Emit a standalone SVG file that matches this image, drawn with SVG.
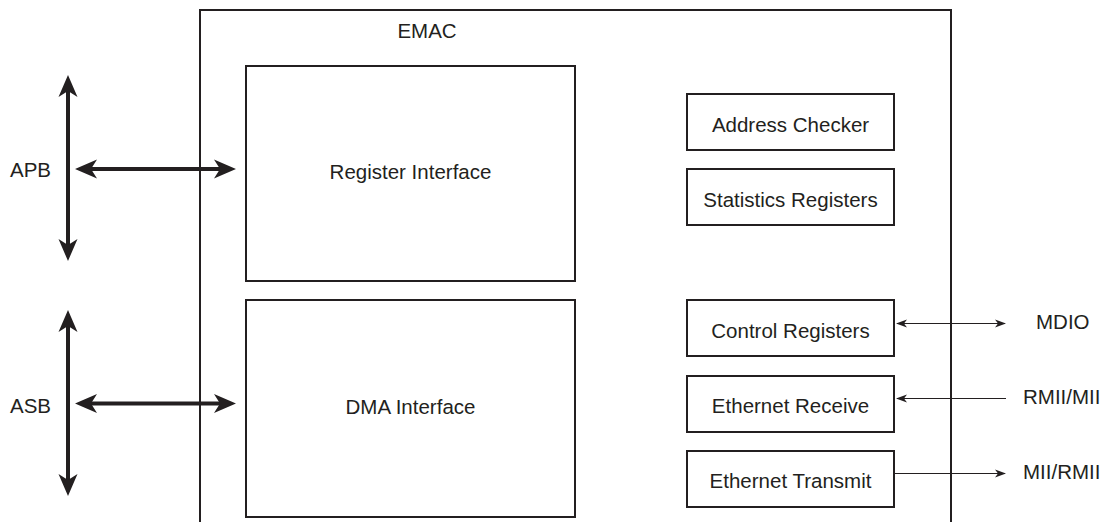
<svg xmlns="http://www.w3.org/2000/svg" width="1106" height="522" viewBox="0 0 1106 522">
<style>
.box{fill:none;stroke:#231f20;stroke-width:2}
.t{font-family:"Liberation Sans",Arial,sans-serif;font-size:20.5px;fill:#231f20}
.c{text-anchor:middle}
.thick{stroke:#231f20;stroke-width:4;fill:none}
.thin{stroke:#231f20;stroke-width:1.2;fill:none}
</style>
<defs>
<marker id="bigArrow" markerUnits="userSpaceOnUse" markerWidth="24" markerHeight="22" refX="8" refY="11" orient="auto-start-reverse">
<path d="M0,1.5 L22,11 L0,20.5 L6,11 Z" fill="#231f20"/>
</marker>
<marker id="smallArrow" markerUnits="userSpaceOnUse" markerWidth="12" markerHeight="10" refX="10" refY="5" orient="auto-start-reverse">
<path d="M0,1 L11,5 L0,9 L3,5 Z" fill="#231f20"/>
</marker>
</defs>
<rect width="1106" height="522" fill="#fff"/>
<g id="emac">
<path class="box" d="M200,522 V10 H951 V522"/>
<text class="t c" x="427" y="38">EMAC</text>
</g>
<g id="register-interface">
<rect class="box" x="246" y="66" width="329" height="215"/>
<text class="t c" x="410.5" y="179">Register Interface</text>
</g>
<g id="dma-interface">
<rect class="box" x="246" y="300" width="329" height="217"/>
<text class="t c" x="410.5" y="414">DMA Interface</text>
</g>
<g id="address-checker">
<rect class="box" x="687" y="94" width="207" height="56"/>
<text class="t c" x="790.5" y="132">Address Checker</text>
</g>
<g id="statistics-registers">
<rect class="box" x="687" y="169" width="207" height="56"/>
<text class="t c" x="790.5" y="207">Statistics Registers</text>
</g>
<g id="control-registers">
<rect class="box" x="687" y="300" width="207" height="56"/>
<text class="t c" x="790.5" y="338">Control Registers</text>
</g>
<g id="ethernet-receive">
<rect class="box" x="687" y="376" width="207" height="56"/>
<text class="t c" x="790.5" y="413">Ethernet Receive</text>
</g>
<g id="ethernet-transmit">
<rect class="box" x="687" y="451" width="207" height="56"/>
<text class="t c" x="790.5" y="488">Ethernet Transmit</text>
</g>
<g id="apb">
<text class="t" x="10" y="177">APB</text>
</g>
<g id="asb">
<text class="t" x="10" y="413">ASB</text>
</g>
<g id="mdio"><text class="t" x="1036" y="329">MDIO</text></g>
<g id="rmii-mii"><text class="t" x="1023" y="404">RMII/MII</text></g>
<g id="mii-rmii"><text class="t" x="1023" y="479">MII/RMII</text></g>
<g id="connectors">
<line class="thick" x1="68" y1="89" x2="68" y2="247" marker-start="url(#bigArrow)" marker-end="url(#bigArrow)"/>
<line class="thick" x1="89" y1="169" x2="222" y2="169" marker-start="url(#bigArrow)" marker-end="url(#bigArrow)"/>
<line class="thick" x1="68" y1="324" x2="68" y2="482" marker-start="url(#bigArrow)" marker-end="url(#bigArrow)"/>
<line class="thick" x1="89" y1="403.5" x2="222" y2="403.5" marker-start="url(#bigArrow)" marker-end="url(#bigArrow)"/>
<line class="thin" x1="897" y1="323.5" x2="1005" y2="323.5" marker-start="url(#smallArrow)" marker-end="url(#smallArrow)"/>
<line class="thin" x1="1006" y1="398.5" x2="897" y2="398.5" marker-end="url(#smallArrow)"/>
<line class="thin" x1="895" y1="473.5" x2="1005" y2="473.5" marker-end="url(#smallArrow)"/>
</g>
</svg>
